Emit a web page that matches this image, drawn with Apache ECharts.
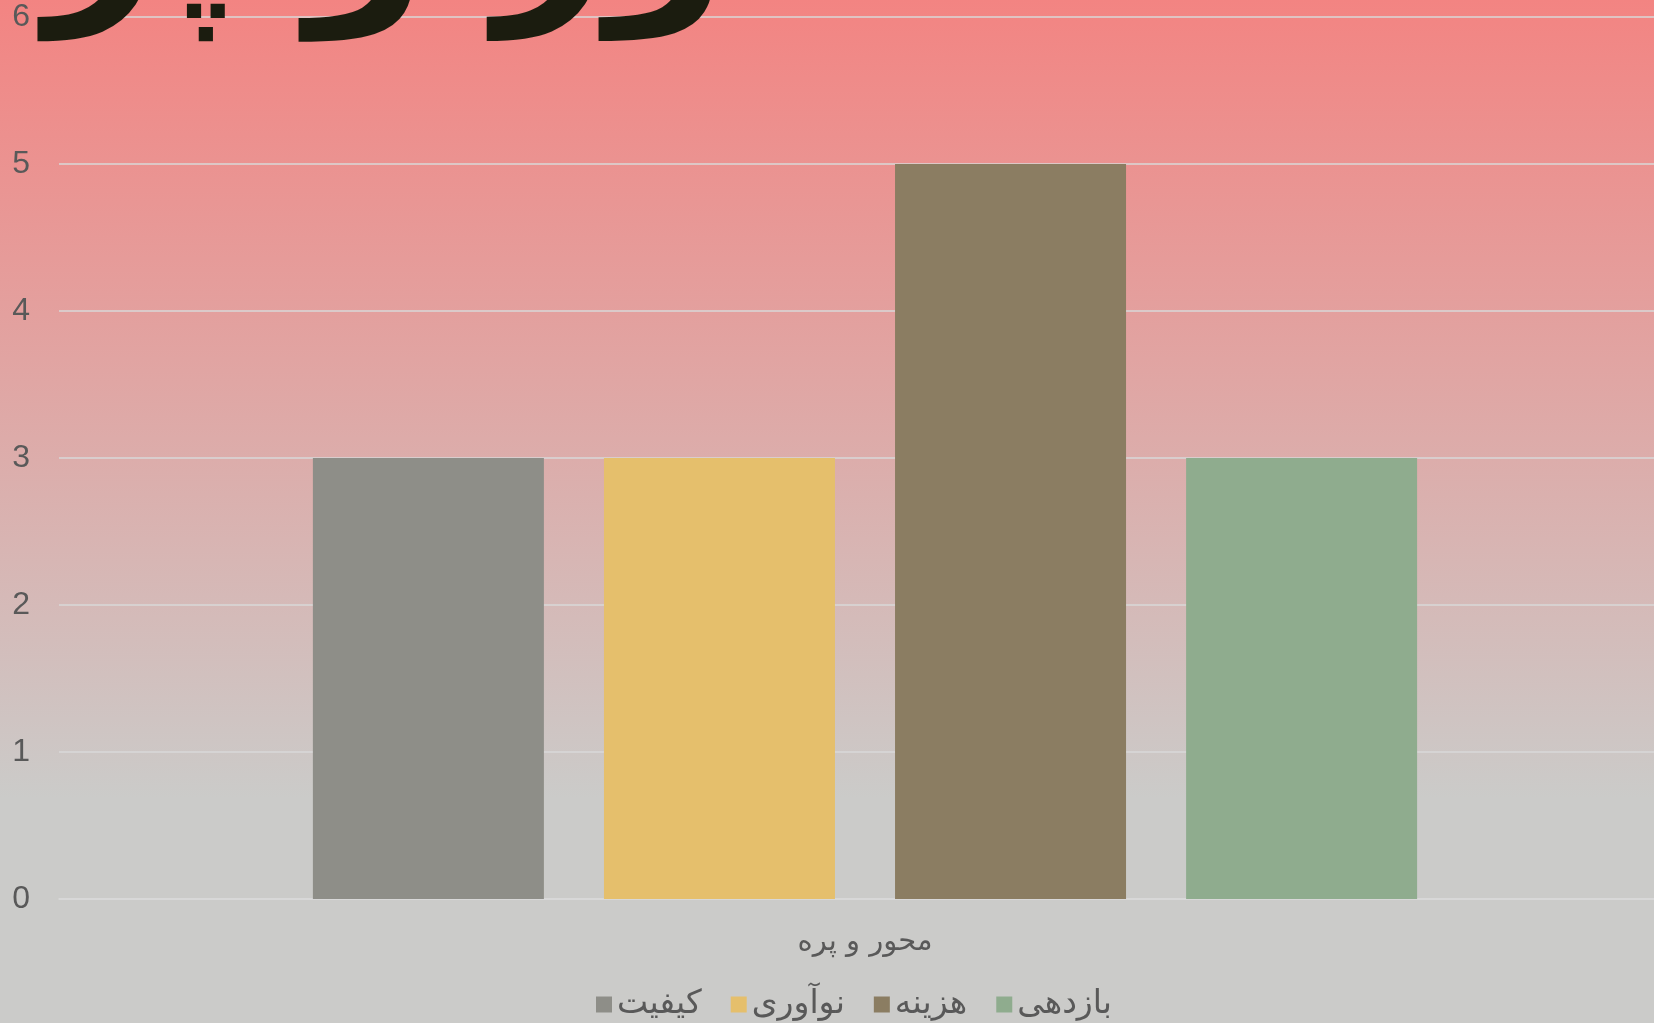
<!DOCTYPE html>
<html>
<head>
<meta charset="utf-8">
<script src="https://cdn.jsdelivr.net/npm/echarts@6/dist/echarts.min.js"></script>
<style>html,body{margin:0;padding:0;}#c{width:1654px;height:1023px;}</style>
</head>
<body>
<div id="c"></div>
<script>
const titleText = 'محور و پره';
const categories = ['محور و پره'];
const seriesNames = ['کیفیت', 'نوآوری', 'هزینه', 'بازدهی'];
const seriesValues = [[3], [3], [5], [3]];
const seriesColors = ['#8e8e88', '#e5bf6c', '#8b7d62', '#8fac8e'];
const yTicks = { min: 0, max: 6, interval: 1 };

const chart = echarts.init(document.getElementById('c'));
const FONT = 'DejaVu Sans';
chart.setOption({
  animation: false,
  backgroundColor: {
    type: 'linear', x: 0, y: 0, x2: 0, y2: 1,
    colorStops: [
      { offset: 0, color: '#f38482' },
      { offset: 0.78, color: '#cbcbc9' },
      { offset: 1, color: '#cbcbc9' }
    ]
  },
  title: {
    text: titleText,
    left: -74,
    top: -158,
    textStyle: { fontFamily: FONT, fontSize: 194, fontWeight: 'bold', color: '#1b1c0f' }
  },
  legend: {
    top: 983,
    left: 591,
    itemWidth: 16,
    itemHeight: 16,
    itemGap: 29,
    icon: 'rect',
    textStyle: { fontFamily: FONT, fontSize: 33, color: '#595959' },
    data: seriesNames
  },
  grid: { left: 59, width: 1612, top: 17, bottom: 124, containLabel: false, outerBoundsMode: 'none' },
  xAxis: {
    type: 'category',
    data: categories,
    axisLine: { show: true, lineStyle: { color: '#d9d9d9', width: 1.5 } },
    axisTick: { show: false },
    axisLabel: { fontFamily: FONT, fontSize: 29, color: '#595959', margin: 29 }
  },
  yAxis: {
    type: 'value',
    min: yTicks.min, max: yTicks.max, interval: yTicks.interval,
    axisLine: { show: false },
    axisTick: { show: false },
    splitLine: { lineStyle: { color: '#d9d9d9', width: 1.5 } },
    axisLabel: { fontFamily: 'Liberation Sans', fontSize: 32, color: '#595959', margin: 29 }
  },
  series: seriesNames.map((n, i) => ({
    name: n,
    type: 'bar',
    data: seriesValues[i],
    itemStyle: { color: seriesColors[i] },
    barGap: '26%',
    barCategoryGap: '31.5%'
  }))
});
</script>
</body>
</html>
